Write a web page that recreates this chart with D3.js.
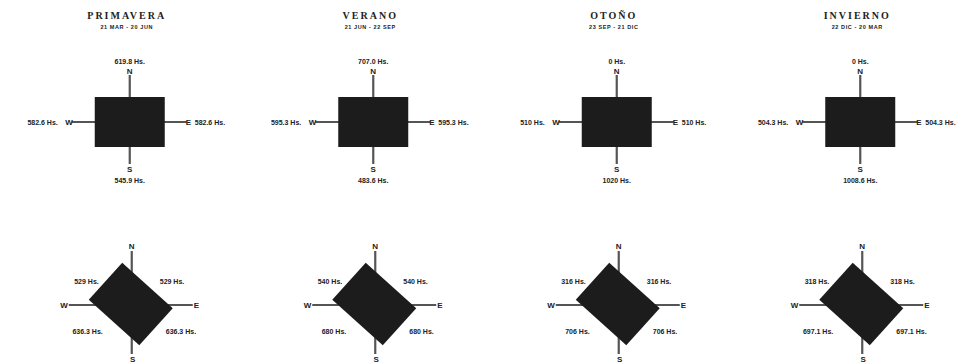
<!DOCTYPE html>
<html>
<head>
<meta charset="utf-8">
<script src="https://d3js.org/d3.v7.min.js"></script>
<style>
  body { margin: 0; background: #fff; }
  svg { display: block; }
  .lbl { font-family: "Liberation Sans", Arial, sans-serif; font-weight: bold; font-size: 7px; fill: #222; }
  .dir { font-family: "Liberation Sans", Arial, sans-serif; font-weight: bold; font-size: 8px; fill: #222; }
  .title { font-family: "Liberation Serif", "DejaVu Serif", serif; font-weight: bold; font-size: 10px; letter-spacing: 2px; fill: #222; }
  .period { font-family: "Liberation Sans", Arial, sans-serif; font-weight: bold; font-size: 5.5px; letter-spacing: 0.6px; fill: #222; }
</style>
</head>
<body>
<svg id="canvas" width="976" height="364"></svg>
<script>
  // estaciones
  const seasons = ["PRIMAVERA", "VERANO", "OTOÑO", "INVIERNO"];
  const periods = ["21 MAR - 20 JUN", "21 JUN - 22 SEP", "23 SEP - 21 DIC", "22 DIC - 20 MAR"];

  // horas de sol por fachada, orientacion N-S
  const hoursN = [619.8, 707.0, 0, 0];
  const hoursE = [582.6, 595.3, 510, 504.3];
  const hoursS = [545.9, 483.6, 1020, 1008.6];
  const hoursW = [582.6, 595.3, 510, 504.3];
  const decimals = [1, 1, 0, 1];

  // orientacion girada 45
  const hoursNE = [529, 540, 316, 318];
  const hoursSE = [636.3, 680, 706, 697.1];
  const hoursSW = [636.3, 680, 706, 697.1];
  const hoursNW = [529, 540, 316, 318];

  const rows = ["recta", "girada"];

  const svg = d3.select("svg");
  const x = d3.scaleBand().domain(seasons).range([8, 982]);
  const y = d3.scalePoint().domain(rows).range([122, 304]);

  const fmtTop = (v, i) => (v === 0 ? "0" : v.toFixed(decimals[i])) + " Hs.";
  const fmtDiag = v => String(v) + " Hs.";

  seasons.forEach((s, i) => {
    const cx = x(s) + x.bandwidth() / 2;

    svg.append("text").attr("class", "title")
      .attr("x", cx - 3).attr("y", 19).attr("text-anchor", "middle").text(s);
    svg.append("text").attr("class", "period")
      .attr("x", cx - 3).attr("y", 29).attr("text-anchor", "middle").text(periods[i]);

    // fila superior
    let g = svg.append("g").attr("transform", `translate(${cx},${y("recta")})`);
    g.append("line").attr("x1", 0).attr("x2", 0).attr("y1", -47).attr("y2", 42)
      .attr("stroke", "#555").attr("stroke-width", 2.2);
    g.append("line").attr("x1", -58).attr("x2", 57).attr("y1", 0).attr("y2", 0)
      .attr("stroke", "#555").attr("stroke-width", 2.2);
    g.append("rect").attr("x", -35).attr("y", -25).attr("width", 70).attr("height", 50)
      .attr("fill", "#1c1c1c");

    g.append("text").attr("class", "lbl").attr("text-anchor", "middle")
      .attr("y", -58).text(fmtTop(hoursN[i], i));
    g.append("text").attr("class", "dir").attr("text-anchor", "middle")
      .attr("y", -48).text("N");
    g.append("text").attr("class", "dir").attr("text-anchor", "middle")
      .attr("y", 50).text("S");
    g.append("text").attr("class", "lbl").attr("text-anchor", "middle")
      .attr("y", 61).text(fmtTop(hoursS[i], i));
    g.append("text").attr("class", "dir").attr("text-anchor", "end")
      .attr("x", -57).attr("y", 3).text("W");
    g.append("text").attr("class", "lbl").attr("text-anchor", "end")
      .attr("x", -72).attr("y", 3).text(fmtTop(hoursW[i], i));
    g.append("text").attr("class", "dir").attr("text-anchor", "start")
      .attr("x", 56).attr("y", 3).text("E");
    g.append("text").attr("class", "lbl").attr("text-anchor", "start")
      .attr("x", 65).attr("y", 3).text(fmtTop(hoursE[i], i));

    // fila inferior
    g = svg.append("g").attr("transform", `translate(${cx + 1},${y("girada")})`);
    g.append("line").attr("x1", 1).attr("x2", 1).attr("y1", -53).attr("y2", 50)
      .attr("stroke", "#555").attr("stroke-width", 2.2);
    g.append("line").attr("x1", -62).attr("x2", 62).attr("y1", 1).attr("y2", 1)
      .attr("stroke", "#555").attr("stroke-width", 2.2);
    g.append("rect").attr("x", -34).attr("y", -25).attr("width", 68).attr("height", 50)
      .attr("fill", "#1c1c1c").attr("transform", "rotate(42)");

    g.append("text").attr("class", "dir").attr("text-anchor", "middle")
      .attr("x", 1).attr("y", -55).text("N");
    g.append("text").attr("class", "dir").attr("text-anchor", "middle")
      .attr("x", 2).attr("y", 58).text("S");
    g.append("text").attr("class", "dir").attr("text-anchor", "end")
      .attr("x", -63).attr("y", 4).text("W");
    g.append("text").attr("class", "dir").attr("text-anchor", "start")
      .attr("x", 63).attr("y", 4).text("E");
    g.append("text").attr("class", "lbl").attr("text-anchor", "end")
      .attr("x", -32).attr("y", -20).text(fmtDiag(hoursNW[i]));
    g.append("text").attr("class", "lbl").attr("text-anchor", "start")
      .attr("x", 29).attr("y", -20).text(fmtDiag(hoursNE[i]));
    g.append("text").attr("class", "lbl").attr("text-anchor", "end")
      .attr("x", -28).attr("y", 30).text(fmtDiag(hoursSW[i]));
    g.append("text").attr("class", "lbl").attr("text-anchor", "start")
      .attr("x", 35).attr("y", 30).text(fmtDiag(hoursSE[i]));
  });
</script>
</body>
</html>
